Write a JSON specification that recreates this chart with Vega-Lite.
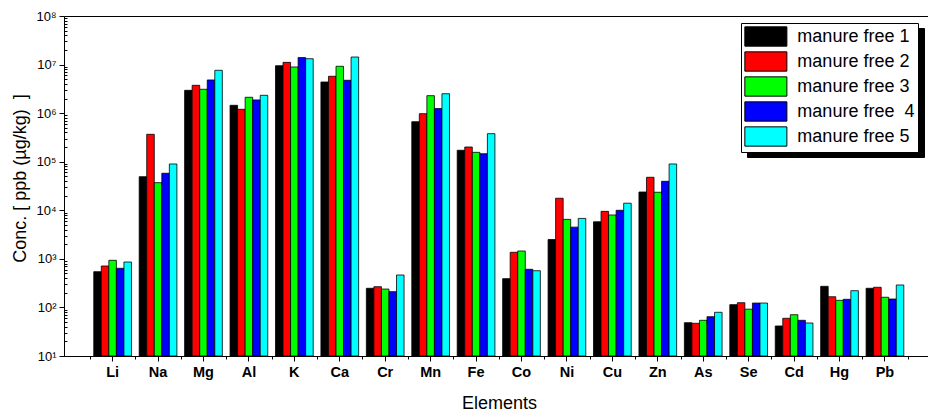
{
  "$schema": "https://vega.github.io/schema/vega-lite/v6.json",
  "width": 864,
  "height": 340,
  "autosize": {"type": "none"},
  "padding": {"left": 64, "top": 16, "right": 0, "bottom": 58},
  "background": "white",
  "config": {
    "font": "Liberation Sans",
    "view": {"stroke": "black", "strokeWidth": 1}
  },
  "data": {
    "values": [
      {"element": "Li", "sample": "manure free 1", "value": 544},
      {"element": "Li", "sample": "manure free 2", "value": 713},
      {"element": "Li", "sample": "manure free 3", "value": 933},
      {"element": "Li", "sample": "manure free  4", "value": 639},
      {"element": "Li", "sample": "manure free 5", "value": 861},
      {"element": "Na", "sample": "manure free 1", "value": 49200},
      {"element": "Na", "sample": "manure free 2", "value": 367000},
      {"element": "Na", "sample": "manure free 3", "value": 37000},
      {"element": "Na", "sample": "manure free  4", "value": 57800},
      {"element": "Na", "sample": "manure free 5", "value": 89800},
      {"element": "Mg", "sample": "manure free 1", "value": 2950000},
      {"element": "Mg", "sample": "manure free 2", "value": 3740000},
      {"element": "Mg", "sample": "manure free 3", "value": 3100000},
      {"element": "Mg", "sample": "manure free  4", "value": 4820000},
      {"element": "Mg", "sample": "manure free 5", "value": 7620000},
      {"element": "Al", "sample": "manure free 1", "value": 1450000},
      {"element": "Al", "sample": "manure free 2", "value": 1200000},
      {"element": "Al", "sample": "manure free 3", "value": 2120000},
      {"element": "Al", "sample": "manure free  4", "value": 1870000},
      {"element": "Al", "sample": "manure free 5", "value": 2330000},
      {"element": "K", "sample": "manure free 1", "value": 9480000},
      {"element": "K", "sample": "manure free 2", "value": 11100000},
      {"element": "K", "sample": "manure free 3", "value": 8920000},
      {"element": "K", "sample": "manure free  4", "value": 13900000},
      {"element": "K", "sample": "manure free 5", "value": 13200000},
      {"element": "Ca", "sample": "manure free 1", "value": 4380000},
      {"element": "Ca", "sample": "manure free 2", "value": 5740000},
      {"element": "Ca", "sample": "manure free 3", "value": 9220000},
      {"element": "Ca", "sample": "manure free  4", "value": 4750000},
      {"element": "Ca", "sample": "manure free 5", "value": 14300000},
      {"element": "Cr", "sample": "manure free 1", "value": 248},
      {"element": "Cr", "sample": "manure free 2", "value": 267},
      {"element": "Cr", "sample": "manure free 3", "value": 239},
      {"element": "Cr", "sample": "manure free  4", "value": 211},
      {"element": "Cr", "sample": "manure free 5", "value": 465},
      {"element": "Mn", "sample": "manure free 1", "value": 667000},
      {"element": "Mn", "sample": "manure free 2", "value": 975000},
      {"element": "Mn", "sample": "manure free 3", "value": 2290000},
      {"element": "Mn", "sample": "manure free  4", "value": 1240000},
      {"element": "Mn", "sample": "manure free 5", "value": 2510000},
      {"element": "Fe", "sample": "manure free 1", "value": 172000},
      {"element": "Fe", "sample": "manure free 2", "value": 201000},
      {"element": "Fe", "sample": "manure free 3", "value": 156000},
      {"element": "Fe", "sample": "manure free  4", "value": 146000},
      {"element": "Fe", "sample": "manure free 5", "value": 378000},
      {"element": "Co", "sample": "manure free 1", "value": 391},
      {"element": "Co", "sample": "manure free 2", "value": 1365},
      {"element": "Co", "sample": "manure free 3", "value": 1452},
      {"element": "Co", "sample": "manure free  4", "value": 610},
      {"element": "Co", "sample": "manure free 5", "value": 570},
      {"element": "Ni", "sample": "manure free 1", "value": 2500},
      {"element": "Ni", "sample": "manure free 2", "value": 17700},
      {"element": "Ni", "sample": "manure free 3", "value": 6500},
      {"element": "Ni", "sample": "manure free  4", "value": 4500},
      {"element": "Ni", "sample": "manure free 5", "value": 6800},
      {"element": "Cu", "sample": "manure free 1", "value": 5800},
      {"element": "Cu", "sample": "manure free 2", "value": 9500},
      {"element": "Cu", "sample": "manure free 3", "value": 8000},
      {"element": "Cu", "sample": "manure free  4", "value": 10000},
      {"element": "Cu", "sample": "manure free 5", "value": 14000},
      {"element": "Zn", "sample": "manure free 1", "value": 23800},
      {"element": "Zn", "sample": "manure free 2", "value": 47800},
      {"element": "Zn", "sample": "manure free 3", "value": 23500},
      {"element": "Zn", "sample": "manure free  4", "value": 39500},
      {"element": "Zn", "sample": "manure free 5", "value": 89800},
      {"element": "As", "sample": "manure free 1", "value": 48.5},
      {"element": "As", "sample": "manure free 2", "value": 47.1},
      {"element": "As", "sample": "manure free 3", "value": 54.3},
      {"element": "As", "sample": "manure free  4", "value": 64.4},
      {"element": "As", "sample": "manure free 5", "value": 79.4},
      {"element": "Se", "sample": "manure free 1", "value": 114},
      {"element": "Se", "sample": "manure free 2", "value": 125},
      {"element": "Se", "sample": "manure free 3", "value": 92},
      {"element": "Se", "sample": "manure free  4", "value": 123},
      {"element": "Se", "sample": "manure free 5", "value": 123},
      {"element": "Cd", "sample": "manure free 1", "value": 41.5},
      {"element": "Cd", "sample": "manure free 2", "value": 59.7},
      {"element": "Cd", "sample": "manure free 3", "value": 70.8},
      {"element": "Cd", "sample": "manure free  4", "value": 54.3},
      {"element": "Cd", "sample": "manure free 5", "value": 47.8},
      {"element": "Hg", "sample": "manure free 1", "value": 272},
      {"element": "Hg", "sample": "manure free 2", "value": 166},
      {"element": "Hg", "sample": "manure free 3", "value": 140},
      {"element": "Hg", "sample": "manure free  4", "value": 147},
      {"element": "Hg", "sample": "manure free 5", "value": 221},
      {"element": "Pb", "sample": "manure free 1", "value": 248},
      {"element": "Pb", "sample": "manure free 2", "value": 260},
      {"element": "Pb", "sample": "manure free 3", "value": 162},
      {"element": "Pb", "sample": "manure free  4", "value": 149},
      {"element": "Pb", "sample": "manure free 5", "value": 290}
    ]
  },
  "encoding": {
    "xOffset": {
      "field": "sample",
      "type": "nominal",
      "sort": ["manure free 1","manure free 2","manure free 3","manure free  4","manure free 5"],
      "scale": {"paddingInner": 0, "paddingOuter": 0.512}
    },
    "y": {
      "field": "value",
      "type": "quantitative",
      "stack": null,
      "scale": {"type": "log", "domain": [10, 100000000]},
      "axis": {
        "title": "Conc. [ ppb (µg/kg)\u00a0 ]",
        "titleFontSize": 18,
        "titleFontWeight": "normal",
        "titleColor": "black",
        "titleX": -44,
        "titleY": 162,
        "titleAngle": 270,
        "titleAlign": "center",
        "titleBaseline": "middle",
        "values": [10,20,30,40,50,60,70,80,90,100,200,300,400,500,600,700,800,900,1000,2000,3000,4000,5000,6000,7000,8000,9000,10000,20000,30000,40000,50000,60000,70000,80000,90000,100000,200000,300000,400000,500000,600000,700000,800000,900000,1000000,2000000,3000000,4000000,5000000,6000000,7000000,8000000,9000000,10000000,20000000,30000000,40000000,50000000,60000000,70000000,80000000,90000000,100000000],
        "labelExpr": "abs(log(datum.value)/LN10 - round(log(datum.value)/LN10)) < 0.01 ? '10' + substring('⁰¹²³⁴⁵⁶⁷⁸', round(log(datum.value)/LN10), round(log(datum.value)/LN10) + 1) : ''",
        "labelFontSize": 13,
        "labelColor": "black",
        "labelPadding": 3,
        "labelOverlap": false,
        "labelBound": false,
        "labelFlush": false,
        "tickSize": {"condition": {"test": "abs(log(datum.value)/LN10 - round(log(datum.value)/LN10)) < 0.01", "value": 5}, "value": -3},
        "tickColor": "black",
        "domainColor": "black",
        "grid": false
      }
    },
    "y2": {"datum": 10}
  },
  "layer": [
    {
      "mark": {"type": "bar", "opacity": 0},
      "encoding": {
        "x": {
          "field": "element",
          "type": "nominal",
          "sort": null,
          "axis": {
            "title": null,
            "labels": false,
            "domain": false,
            "tickBand": "extent",
            "tickSize": 3,
            "tickColor": "black",
            "orient": "bottom"
          }
        },
        "stroke": {
          "field": "sample",
          "type": "nominal",
          "scale": {
            "domain": ["manure free 5","manure free  4","manure free 3","manure free 2","manure free 1"],
            "range": ["#000000","#000000","#000000","#000000","#000000"]
          },
          "legend": {
            "orient": "none",
            "legendX": 683,
            "legendY": 12,
            "title": null,
            "symbolType": "M-1,-1H16.37V1H-1Z",
            "symbolSize": 372,
            "symbolOffset": 0,
            "symbolStrokeColor": "black",
            "symbolFillColor": "black",
            "symbolStrokeWidth": 1,
            "symbolOpacity": 1,
            "labelFontSize": 18,
            "labelColor": "black",
            "labelOffset": 21,
            "labelExpr": "''",
            "strokeColor": "black",
            "fillColor": "black",
            "padding": 3,
            "rowPadding": 0
          }
        }
      }
    },
    {
      "mark": {"type": "bar", "stroke": "black", "strokeWidth": 0.8},
      "encoding": {
        "x": {
          "field": "element",
          "type": "nominal",
          "sort": null,
          "scale": {
            "domain": ["Li","Na","Mg","Al","K","Ca","Cr","Mn","Fe","Co","Ni","Cu","Zn","As","Se","Cd","Hg","Pb","-"],
            "range": [0, 915],
            "paddingInner": 0,
            "paddingOuter": 0.57
          },
          "axis": {
            "title": "Elements",
            "titleFontSize": 18,
            "titleFontWeight": "normal",
            "titleColor": "black",
            "titleX": 435,
            "titleY": 47,
            "titleBaseline": "middle",
            "labelFontSize": 14.5,
            "labelFontWeight": "bold",
            "labelColor": "black",
            "labelAngle": 0,
            "labelPadding": 4,
            "labelOverlap": false,
            "labelBound": false,
            "labelFlush": false,
            "tickSize": 5,
            "tickColor": "black",
            "domainColor": "black",
            "orient": "bottom"
          }
        },
        "color": {
          "field": "sample",
          "type": "nominal",
          "scale": {
            "domain": ["manure free 1","manure free 2","manure free 3","manure free  4","manure free 5"],
            "range": ["#000000","#ff0000","#00ff00","#0000ff","#00ffff"]
          },
          "legend": {
            "orient": "none",
            "legendX": 677,
            "legendY": 7,
            "title": null,
            "symbolType": "M-2.18,-1H2.18V1H-2.18Z",
            "symbolSize": 372,
            "symbolOffset": 11.36,
            "symbolStrokeColor": "black",
            "symbolStrokeWidth": 1,
            "symbolOpacity": 1,
            "labelFontSize": 18,
            "labelColor": "black",
            "labelOffset": 21,
            "labelLimit": 300,
            "labelExpr": "datum.label == 'manure free  4' ? 'manure free\u00a0 4' : datum.label",
            "strokeColor": "black",
            "fillColor": "white",
            "padding": 3,
            "rowPadding": 0
          }
        }
      }
    }
  ],
  "resolve": {"axis": {"x": "independent"}}
}
